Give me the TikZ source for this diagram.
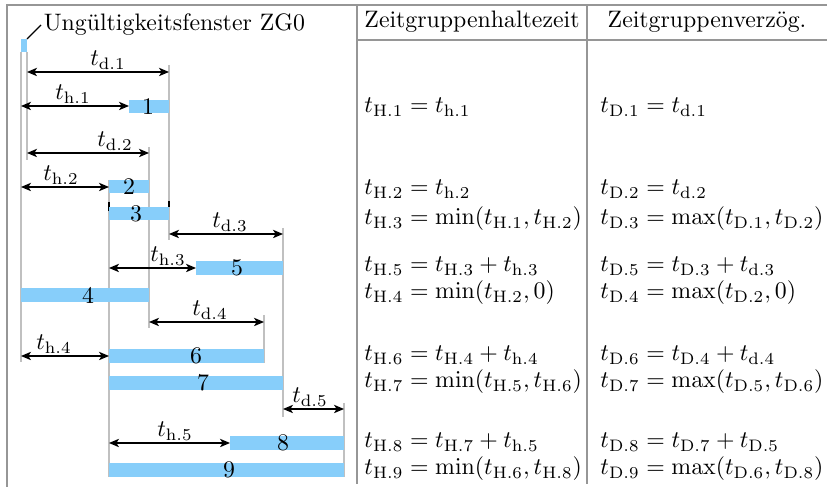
\documentclass[tikz,border=0pt]{standalone}
\usetikzlibrary{arrows.meta}
\definecolor{barblue}{RGB}{135,206,250}
\definecolor{markgray}{RGB}{192,192,192}
\definecolor{tablegray}{RGB}{150,150,150}
\tikzset{
  bar/.style={fill=barblue},
  timeline/.style={draw=markgray,line width=0.6pt},
  tline/.style={draw=tablegray,line width=0.6pt},
  dim/.style={draw=black,line width=0.5pt,{Stealth[length=4.2pt,width=3.5pt,inset=1.1pt]}-{Stealth[length=4.2pt,width=3.5pt,inset=1.1pt]}},
  dimlbl/.style={anchor=south,inner sep=0.5pt},
  barnum/.style={inner sep=0pt},
  eq/.style={anchor=base west,inner sep=0pt},
  hdr/.style={anchor=base,inner sep=0pt}
}
\begin{document}
\begin{tikzpicture}[x=0.42pt,y=-0.42pt]
\useasboundingbox (0,0) rectangle (827,487);
% table frame
\draw[tline] (7,487) -- (7,5) -- (827,5);
\draw[tline] (357,5) -- (357,484);
\draw[tline] (587,5) -- (587,484);
\draw[tline] (357,40) -- (827,40);
\node[hdr] (h2) at (472,28) {Zeitgruppenhaltezeit};
\node[hdr] (h3) at (707,28) {Zeitgruppenverz\"og.};
% time marks
\draw[timeline] (21,52) -- (21,362);
\draw[timeline] (27,52) -- (27,160);
\draw[timeline] (169,65) -- (169,240);
\draw[timeline] (149,147) -- (149,328);
\draw[timeline] (109,180) -- (109,477);
\draw[timeline] (283,228) -- (283,417);
\draw[timeline] (264,315) -- (264,363);
\draw[timeline] (344,403) -- (344,477);
\draw[black,line width=0.5pt] (109,202) -- (109,211);
\draw[black,line width=0.5pt] (169,201) -- (169,207);
% ZG0 window
\fill[bar] (21,39) rectangle (27,52);
\coordinate (zg) at (27,39);
\node[anchor=west,inner sep=1pt] (zglbl) at (41,25) {Ungültigkeitsfenster ZG0};
\draw[black,line width=0.5pt] (zg) -- (zglbl.west);
% bars
\fill[bar] (129,100) rectangle (169,113); \node[barnum] (n1) at (148,106.5) {1};
\fill[bar] (109,180) rectangle (149,193); \node[barnum] (n2) at (129,186.5) {2};
\fill[bar] (109,207) rectangle (169,220); \node[barnum] (n3) at (136,213.5) {3};
\fill[bar] (196,261) rectangle (283,275); \node[barnum] (n5) at (237,268) {5};
\fill[bar] (21,288) rectangle (149,302); \node[barnum] (n4) at (88,295) {4};
\fill[bar] (109,349) rectangle (264,363); \node[barnum] (n6) at (196,356) {6};
\fill[bar] (109,376) rectangle (283,390); \node[barnum] (n7) at (203,383) {7};
\fill[bar] (230,436) rectangle (344,450); \node[barnum] (n8) at (283,443) {8};
\fill[bar] (109,463) rectangle (344,477); \node[barnum] (n9) at (229,470) {9};
% dimension arrows
\coordinate (d1a) at (27,72);  \coordinate (d1b) at (169,72);
\coordinate (h1a) at (21,106); \coordinate (h1b) at (129,106);
\coordinate (d2a) at (27,153); \coordinate (d2b) at (149,153);
\coordinate (h2a) at (21,187); \coordinate (h2b) at (109,187);
\coordinate (d3a) at (169,234); \coordinate (d3b) at (283,234);
\coordinate (h3a) at (109,268); \coordinate (h3b) at (196,268);
\coordinate (d4a) at (149,322); \coordinate (d4b) at (264,322);
\coordinate (h4a) at (21,356); \coordinate (h4b) at (109,356);
\coordinate (d5a) at (283,409); \coordinate (d5b) at (344,409);
\coordinate (h5a) at (109,443); \coordinate (h5b) at (230,443);
\draw[dim] (d1a) -- (d1b); \node[dimlbl] (ld1) at (108,71) {$t_{\mathrm{d.1}}$};
\draw[dim] (h1a) -- (h1b); \node[dimlbl] (lh1) at (73,105) {$t_{\mathrm{h.1}}$};
\draw[dim] (d2a) -- (d2b); \node[dimlbl] (ld2) at (115,152) {$t_{\mathrm{d.2}}$};
\draw[dim] (h2a) -- (h2b); \node[dimlbl] (lh2) at (61,186) {$t_{\mathrm{h.2}}$};
\draw[dim] (d3a) -- (d3b); \node[dimlbl] (ld3) at (230,233) {$t_{\mathrm{d.3}}$};
\draw[dim] (h3a) -- (h3b); \node[dimlbl] (lh3) at (168,267) {$t_{\mathrm{h.3}}$};
\draw[dim] (d4a) -- (d4b); \node[dimlbl] (ld4) at (210,321) {$t_{\mathrm{d.4}}$};
\draw[dim] (h4a) -- (h4b); \node[dimlbl] (lh4) at (54,355) {$t_{\mathrm{h.4}}$};
\draw[dim] (d5a) -- (d5b); \node[dimlbl] (ld5) at (310,408) {$t_{\mathrm{d.5}}$};
\draw[dim] (h5a) -- (h5b); \node[dimlbl] (lh5) at (175,442) {$t_{\mathrm{h.5}}$};
% equations
\node[eq] (eH1) at (364,113) {$t_{\mathrm{H.1}} = t_{\mathrm{h.1}}$};
\node[eq] (eD1) at (600,113) {$t_{\mathrm{D.1}} = t_{\mathrm{d.1}}$};
\node[eq] (eH2) at (364,195) {$t_{\mathrm{H.2}} = t_{\mathrm{h.2}}$};
\node[eq] (eD2) at (600,195) {$t_{\mathrm{D.2}} = t_{\mathrm{d.2}}$};
\node[eq] (eH3) at (364,225) {$t_{\mathrm{H.3}} = \min(t_{\mathrm{H.1}}, t_{\mathrm{H.2}})$};
\node[eq] (eD3) at (600,225) {$t_{\mathrm{D.3}} = \max(t_{\mathrm{D.1}}, t_{\mathrm{D.2}})$};
\node[eq] (eH5) at (364,272) {$t_{\mathrm{H.5}} = t_{\mathrm{H.3}} + t_{\mathrm{h.3}}$};
\node[eq] (eD5) at (600,272) {$t_{\mathrm{D.5}} = t_{\mathrm{D.3}} + t_{\mathrm{d.3}}$};
\node[eq] (eH4) at (364,299) {$t_{\mathrm{H.4}} = \min(t_{\mathrm{H.2}}, 0)$};
\node[eq] (eD4) at (600,299) {$t_{\mathrm{D.4}} = \max(t_{\mathrm{D.2}}, 0)$};
\node[eq] (eH6) at (364,361) {$t_{\mathrm{H.6}} = t_{\mathrm{H.4}} + t_{\mathrm{h.4}}$};
\node[eq] (eD6) at (600,361) {$t_{\mathrm{D.6}} = t_{\mathrm{D.4}} + t_{\mathrm{d.4}}$};
\node[eq] (eH7) at (364,388) {$t_{\mathrm{H.7}} = \min(t_{\mathrm{H.5}}, t_{\mathrm{H.6}})$};
\node[eq] (eD7) at (600,388) {$t_{\mathrm{D.7}} = \max(t_{\mathrm{D.5}}, t_{\mathrm{D.6}})$};
\node[eq] (eH8) at (364,448) {$t_{\mathrm{H.8}} = t_{\mathrm{H.7}} + t_{\mathrm{h.5}}$};
\node[eq] (eD8) at (600,448) {$t_{\mathrm{D.8}} = t_{\mathrm{D.7}} + t_{\mathrm{D.5}}$};
\node[eq] (eH9) at (364,475) {$t_{\mathrm{H.9}} = \min(t_{\mathrm{H.6}}, t_{\mathrm{H.8}})$};
\node[eq] (eD9) at (600,475) {$t_{\mathrm{D.9}} = \max(t_{\mathrm{D.6}}, t_{\mathrm{D.8}})$};
\end{tikzpicture}
\end{document}
